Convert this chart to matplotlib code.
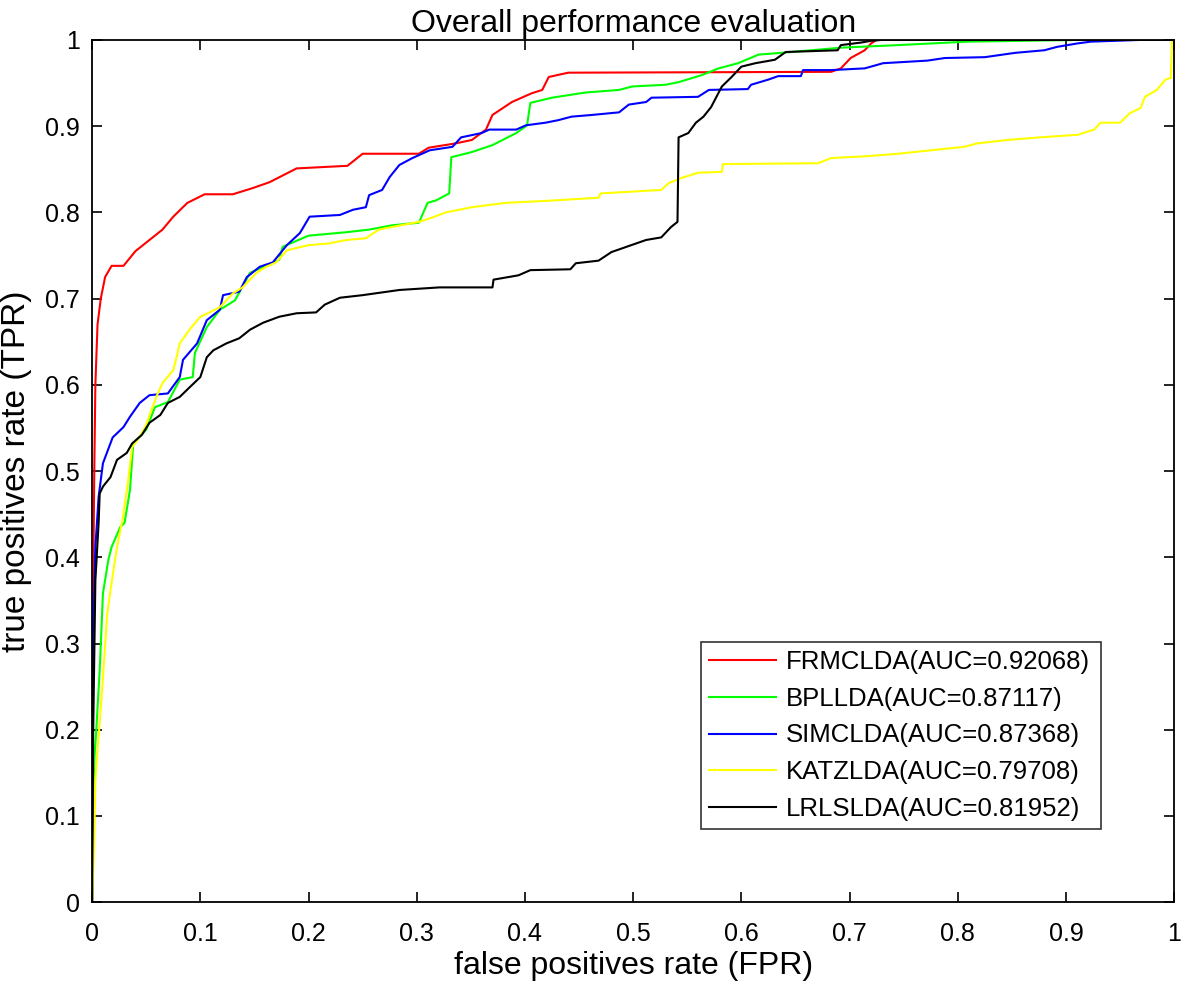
import matplotlib
matplotlib.use("Agg")
import matplotlib.pyplot as plt
from matplotlib.ticker import FuncFormatter
import numpy as np

# ROC points (FPR, TPR)
frmclda_fpr = [0, 0.001, 0.002, 0.003, 0.005, 0.008, 0.012, 0.018, 0.029, 0.04, 0.053, 0.065, 0.075, 0.088,
               0.104, 0.13, 0.148, 0.164, 0.189, 0.236, 0.25, 0.302, 0.311, 0.336, 0.351, 0.364, 0.37,
               0.388, 0.406, 0.416, 0.422, 0.44, 0.683, 0.692, 0.701, 0.714, 0.72, 0.725, 1.0]
frmclda_tpr = [0, 0.373, 0.5, 0.6, 0.67, 0.7, 0.725, 0.738, 0.738, 0.755, 0.768, 0.78, 0.795, 0.811,
               0.821, 0.821, 0.828, 0.835, 0.851, 0.854, 0.868, 0.868, 0.875, 0.880, 0.884, 0.896, 0.913,
               0.928, 0.938, 0.942, 0.957, 0.962, 0.963, 0.967, 0.979, 0.988, 0.996, 1.0, 1.0]

bpllda_fpr = [0, 0.001, 0.002, 0.004, 0.007, 0.01, 0.015, 0.018, 0.026, 0.03, 0.035, 0.038, 0.05, 0.058,
              0.07, 0.081, 0.093, 0.095, 0.106, 0.118, 0.132, 0.146, 0.173, 0.176, 0.2, 0.235, 0.256,
              0.277, 0.302, 0.31, 0.318, 0.33, 0.332, 0.351, 0.37, 0.392, 0.402, 0.405, 0.425, 0.456,
              0.487, 0.499, 0.53, 0.542, 0.563, 0.579, 0.597, 0.616, 0.637, 0.692, 0.745, 0.809, 0.913, 1.0]
bpllda_tpr = [0, 0.1, 0.165, 0.203, 0.269, 0.358, 0.397, 0.412, 0.435, 0.44, 0.478, 0.532, 0.548, 0.574,
              0.58, 0.606, 0.609, 0.637, 0.667, 0.687, 0.698, 0.73, 0.745, 0.76, 0.773, 0.777, 0.78,
              0.785, 0.788, 0.811, 0.814, 0.822, 0.864, 0.870, 0.878, 0.892, 0.901, 0.927, 0.933, 0.939,
              0.942, 0.946, 0.948, 0.951, 0.959, 0.967, 0.973, 0.983, 0.985, 0.991, 0.994, 0.998, 1.0, 1.0]

simclda_fpr = [0, 0.001, 0.003, 0.006, 0.01, 0.019, 0.029, 0.035, 0.044, 0.053, 0.07, 0.081, 0.084, 0.097,
               0.106, 0.118, 0.121, 0.136, 0.143, 0.155, 0.167, 0.18, 0.192, 0.201, 0.229, 0.241, 0.253,
               0.256, 0.268, 0.275, 0.284, 0.296, 0.312, 0.333, 0.341, 0.36, 0.367, 0.392, 0.401, 0.419,
               0.431, 0.443, 0.462, 0.487, 0.496, 0.512, 0.517, 0.56, 0.57, 0.606, 0.609, 0.625, 0.634,
               0.655, 0.657, 0.683, 0.714, 0.731, 0.772, 0.788, 0.825, 0.853, 0.88, 0.892, 0.911, 0.923,
               0.969, 1.0]
simclda_tpr = [0, 0.3, 0.412, 0.47, 0.509, 0.539, 0.551, 0.563, 0.579, 0.588, 0.59, 0.609, 0.629, 0.648,
               0.675, 0.687, 0.704, 0.708, 0.725, 0.737, 0.742, 0.762, 0.776, 0.795, 0.797, 0.803, 0.806,
               0.82, 0.826, 0.841, 0.855, 0.863, 0.872, 0.876, 0.887, 0.892, 0.896, 0.896, 0.901, 0.904,
               0.907, 0.911, 0.913, 0.916, 0.925, 0.928, 0.933, 0.934, 0.942, 0.943, 0.948, 0.954, 0.958,
               0.958, 0.965, 0.965, 0.967, 0.973, 0.976, 0.979, 0.98, 0.985, 0.988, 0.992, 0.996, 0.998,
               1.0, 1.0]

katzlda_fpr = [0, 0.002, 0.003, 0.009, 0.014, 0.017, 0.023, 0.028, 0.033, 0.037, 0.042, 0.049, 0.06, 0.065,
               0.075, 0.078, 0.081, 0.09, 0.1, 0.107, 0.118, 0.13, 0.139, 0.152, 0.161, 0.17, 0.18, 0.2,
               0.219, 0.235, 0.253, 0.265, 0.277, 0.302, 0.312, 0.327, 0.351, 0.382, 0.429, 0.468, 0.47,
               0.526, 0.533, 0.545, 0.56, 0.582, 0.583, 0.671, 0.683, 0.714, 0.745, 0.775, 0.806, 0.818,
               0.846, 0.876, 0.911, 0.926, 0.932, 0.95, 0.959, 0.969, 0.973, 0.984, 0.992, 0.997, 0.998, 1.0]
katzlda_tpr = [0, 0.075, 0.142, 0.242, 0.335, 0.362, 0.412, 0.443, 0.486, 0.528, 0.536, 0.551, 0.588, 0.602,
               0.617, 0.632, 0.648, 0.664, 0.679, 0.683, 0.69, 0.706, 0.713, 0.73, 0.737, 0.742, 0.756, 0.762,
               0.764, 0.768, 0.77, 0.78, 0.783, 0.789, 0.793, 0.8, 0.806, 0.811, 0.814, 0.817, 0.822,
               0.826, 0.834, 0.84, 0.846, 0.847, 0.856, 0.857, 0.863, 0.865, 0.868, 0.872, 0.876, 0.88,
               0.884, 0.887, 0.89, 0.896, 0.904, 0.904, 0.915, 0.921, 0.934, 0.942, 0.954, 0.956, 1.0, 1.0]

lrlslda_fpr = [0, 0.001, 0.003, 0.006, 0.007, 0.01, 0.017, 0.023, 0.032, 0.037, 0.046, 0.053, 0.063, 0.07,
               0.081, 0.09, 0.1, 0.106, 0.112, 0.124, 0.136, 0.146, 0.158, 0.173, 0.189, 0.207, 0.215,
               0.229, 0.25, 0.284, 0.321, 0.37, 0.371, 0.394, 0.405, 0.442, 0.447, 0.468, 0.48, 0.496,
               0.512, 0.526, 0.535, 0.541, 0.542, 0.551, 0.558, 0.565, 0.572, 0.582, 0.591, 0.6, 0.613,
               0.631, 0.641, 0.689, 0.692, 0.711, 0.72, 0.73, 1.0]
lrlslda_tpr = [0, 0.2, 0.373, 0.44, 0.474, 0.482, 0.493, 0.513, 0.521, 0.532, 0.542, 0.556, 0.565, 0.579,
               0.586, 0.597, 0.609, 0.632, 0.64, 0.648, 0.654, 0.664, 0.672, 0.679, 0.683, 0.684, 0.693,
               0.701, 0.704, 0.71, 0.713, 0.713, 0.722, 0.727, 0.733, 0.734, 0.741, 0.744, 0.754, 0.761,
               0.768, 0.771, 0.783, 0.789, 0.887, 0.892, 0.904, 0.911, 0.922, 0.946, 0.957, 0.969, 0.973,
               0.977, 0.986, 0.988, 0.994, 0.997, 0.999, 1.0, 1.0]

labels = ["FRMCLDA(AUC=0.92068)", "BPLLDA(AUC=0.87117)", "SIMCLDA(AUC=0.87368)",
          "KATZLDA(AUC=0.79708)", "LRLSLDA(AUC=0.81952)"]
colors = ["#ff0000", "#00ff00", "#0000ff", "#ffff00", "#000000"]

plt.rcParams["font.family"] = ["Liberation Sans", "DejaVu Sans"]

fig = plt.figure(figsize=(11.81, 9.98), dpi=100)
ax = fig.add_axes([0.078, 0.096, 0.9162, 0.864])

curves = [(frmclda_fpr, frmclda_tpr), (bpllda_fpr, bpllda_tpr), (simclda_fpr, simclda_tpr),
          (katzlda_fpr, katzlda_tpr), (lrlslda_fpr, lrlslda_tpr)]
for (fpr, tpr), lab, col in zip(curves, labels, colors):
    ax.plot(fpr, tpr, color=col, lw=1.5, label=lab)

ax.set_xlim(0, 1)
ax.set_ylim(0, 1)
ticks = np.arange(0, 1.01, 0.1)
ax.set_xticks(ticks)
ax.set_yticks(ticks)
fmt = FuncFormatter(lambda v, p: "%g" % round(v, 1))
ax.xaxis.set_major_formatter(fmt)
ax.yaxis.set_major_formatter(fmt)
ax.tick_params(direction="in", length=7, width=1.2, top=True, right=True, labelsize=18)
ax.tick_params(axis="x", pad=14)
ax.tick_params(axis="y", pad=9)
for s in ax.spines.values():
    s.set_linewidth(1.3)

ax.set_title("Overall performance evaluation", fontsize=23, pad=6)
ax.set_xlabel("false positives rate (FPR)", fontsize=23, labelpad=4)
ax.set_ylabel("true positives rate (TPR)", fontsize=24)
ax.yaxis.set_label_coords(-0.056, 0.5)

leg = ax.legend(loc="lower left", bbox_to_anchor=(0.563, 0.085, 0.369, 0.213), mode="expand",
                fontsize=18.5, frameon=True, fancybox=False, borderaxespad=0, handlelength=2.6,
                handletextpad=0.4, labelspacing=0.5, borderpad=0.3)
leg.get_frame().set_edgecolor("black")
leg.get_frame().set_linewidth(1.2)

fig.savefig("out.png", dpi=100)
